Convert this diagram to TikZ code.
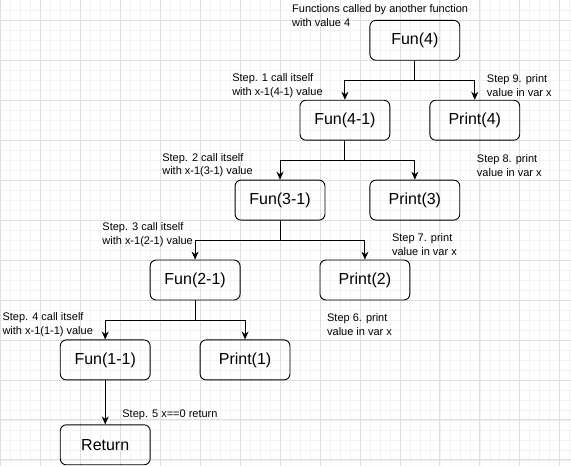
\documentclass[tikz,border=0pt]{standalone}
\usepackage{fontspec}
\setmainfont{Liberation Sans}
\usetikzlibrary{arrows.meta}
\begin{document}
\begin{tikzpicture}[x=1pt,y=-1pt,
  box/.style={draw, rounded corners=6pt, minimum width=90pt, minimum height=40pt, inner sep=0pt, font=\fontsize{16}{19}\selectfont, line width=0.9pt},
  lbl/.style={anchor=west, align=left, inner sep=0pt, font=\fontsize{11}{14}\selectfont},
  arr/.style={-{Stealth[length=8pt,width=7pt]}, line width=0.9pt},
  gmin/.style={draw=black!5, line width=0.5pt},
  gmaj/.style={draw=black!13, line width=0.7pt}]
\fill[white] (0,0) rectangle (571,466);
\foreach \x in {10,20,...,570} \draw[gmin] (\x,0) -- (\x,466);
\foreach \y in {10,20,...,460} \draw[gmin] (0,\y) -- (571,\y);
\foreach \x in {0,40,...,560} \draw[gmaj] (\x,0) -- (\x,466);
\foreach \y in {20,60,...,460} \draw[gmaj] (0,\y) -- (571,\y);
\useasboundingbox (0,0) rectangle (571,466);

\node[box] (fun4) at (415,40) {Fun(4)};
\node[box] (fun41) at (345,120) {Fun(4-1)};
\node[box] (p4) at (475,120) {Print(4)};
\node[box] (fun31) at (280,200) {Fun(3-1)};
\node[box] (p3) at (415,200) {Print(3)};
\node[box] (fun21) at (195,280) {Fun(2-1)};
\node[box] (p2) at (365,280) {Print(2)};
\node[box] (fun11) at (105,360) {Fun(1-1)};
\node[box] (p1) at (245,360) {Print(1)};
\node[box] (ret) at (105,445) {Return};

\draw[arr] (fun4.south) -- ++(0,20) -| (fun41.north);
\draw[arr] (fun4.south) -- ++(0,20) -| (p4.north);
\draw[arr] (fun41.south) -- ++(0,20) -| (fun31.north);
\draw[arr] (fun41.south) -- ++(0,20) -| (p3.north);
\draw[arr] (fun31.south) -- ++(0,20) -| (fun21.north);
\draw[arr] (fun31.south) -- ++(0,20) -| (p2.north);
\draw[arr] (fun21.south) -- ++(0,20) -| (fun11.north);
\draw[arr] (fun21.south) -- ++(0,20) -| (p1.north);
\draw[arr] (fun11.south) -- (ret.north);

\node[lbl] (t0) at (292,15) {Functions called by another function\\with value 4};
\node[lbl] (t1) at (232,85) {Step. 1 call itself\\with x-1(4-1) value};
\node[lbl] (t9) at (487,85) {Step 9. print\\value in var x};
\node[lbl] (t2) at (162,165) {Step. 2 call itself\\with x-1(3-1) value};
\node[lbl] (t8) at (477,165) {Step 8. print\\value in var x};
\node[lbl] (t3) at (102,235) {Step. 3 call itself\\with x-1(2-1) value};
\node[lbl] (t7) at (392,245) {Step 7. print\\value in var x};
\node[lbl] (t4) at (2,325) {Step. 4 call itself\\with x-1(1-1) value};
\node[lbl] (t6) at (327,325) {Step 6. print\\value in var x};
\node[lbl] (t5) at (122,415) {Step. 5 x==0 return};
\end{tikzpicture}
\end{document}
